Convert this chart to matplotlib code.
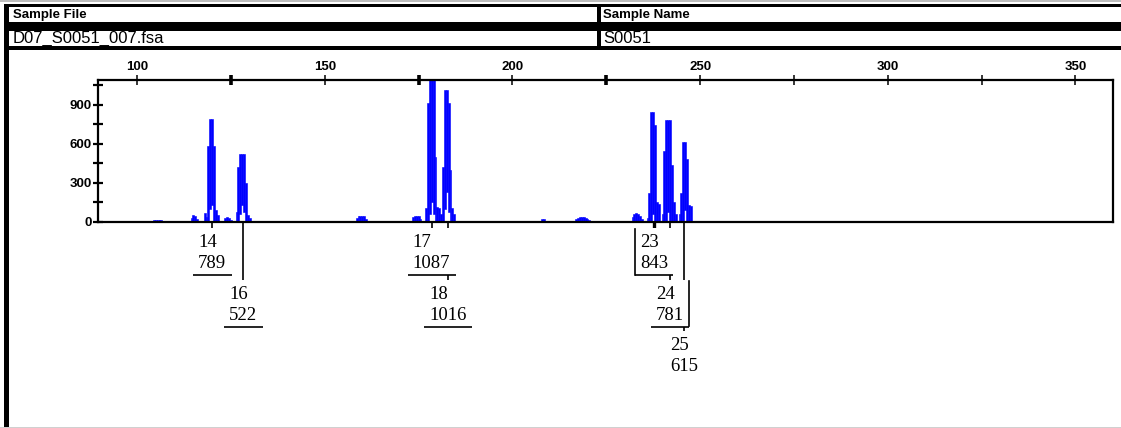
import matplotlib
matplotlib.use("Agg")
import matplotlib.pyplot as plt
import numpy as np
from matplotlib.patches import Rectangle
from matplotlib.ticker import FixedLocator

plt.rcParams['font.family'] = ['Liberation Sans', 'DejaVu Sans']

W, H = 1121, 428

sample_file = "D07_S0051_007.fsa"
sample_name = "S0051"

# blue dye trace, one column per 0.5 bp: size (bp) and signal max (rfu)
col_bp = [104.5, 105.0, 105.5, 106.0, 106.5,
          114.5, 115.0, 115.5, 116.0, 116.5,
          118.0, 118.5, 119.0, 119.5, 120.0, 120.5, 121.0, 121.5,
          123.5, 124.0, 124.5, 125.0,
          126.5, 127.0, 127.5, 128.0, 128.5, 129.0, 129.5, 130.0,
          158.5, 159.0, 159.5, 160.0, 160.5, 161.0,
          173.5, 174.0, 174.5, 175.0, 175.5,
          177.0, 177.5, 178.0, 178.5, 179.0, 179.5, 180.0, 180.5,
          181.0, 181.5, 182.0, 182.5, 183.0, 183.5, 184.0, 184.5,
          208.0, 208.5,
          217.0, 217.5, 218.0, 218.5, 219.0, 219.5, 220.0, 220.5,
          232.0, 232.5, 233.0, 233.5, 234.0, 234.5,
          236.0, 236.5, 237.0, 237.5, 238.0, 238.5, 239.0,
          240.0, 240.5, 241.0, 241.5, 242.0, 242.5, 243.0, 243.5,
          244.5, 245.0, 245.5, 246.0, 246.5, 247.0, 247.5]
col_hi = [15, 18, 18, 18, 15,
          30, 54, 45, 25, 10,
          70, 40, 580, 789, 789, 580, 92, 50,
          30, 36, 30, 15,
          80, 425, 522, 522, 522, 302, 55, 30,
          30, 45, 48, 48, 45, 25,
          40, 48, 48, 48, 25,
          105, 913, 1087, 1087, 1087, 502, 118, 110,
          60, 425, 1016, 1016, 913, 400, 105, 60,
          20, 20,
          25, 33, 36, 36, 36, 33, 25, 12,
          35, 60, 69, 62, 45, 20,
          30, 220, 843, 843, 746, 156, 140,
          60, 548, 781, 781, 781, 438, 156, 60,
          60, 225, 615, 615, 485, 130, 120]
# columns whose signal never returns to baseline (signal min, rfu)
notch_bp = [119.5, 120.0, 127.5, 128.0, 128.5, 178.0, 178.5, 179.0,
            182.0, 182.5, 183.0, 237.5, 241.5, 246.0]
notch_lo = [100, 130, 60, 130, 80, 60, 156, 60,
            100, 230, 80, 60, 80, 95]

# called alleles
allele_names = ["14", "16", "17", "18", "23", "24", "25"]
allele_bp = [120.04, 128.31, 178.48, 182.74, 237.68, 241.95, 245.81]
allele_rfu = [789, 522, 1087, 1016, 843, 781, 615]

# label row for each allele, and the box side that gets an edge line
label_row = [0, 1, 0, 1, 0, 1, 2]
label_edge = [None, None, None, None, "left", "right", None]
row_top = [228, 280, 331]

fig = plt.figure(figsize=(W / 100, H / 100), dpi=100)

# page frame and header, drawn in pixel units
ov = fig.add_axes([0, 0, 1, 1], zorder=0)
ov.set_xlim(0, W)
ov.set_ylim(H, 0)
ov.axis('off')

ov.add_patch(Rectangle((0, 0.4), W, 1.3, color='#bdbdbd', lw=0))
ov.add_patch(Rectangle((4, 4), W - 4, 3.4, color='black', lw=0))
ov.add_patch(Rectangle((4, 21.7), W - 4, 9, color='black', lw=0))
ov.add_patch(Rectangle((4, 45.7), W - 4, 4.3, color='black', lw=0))
ov.add_patch(Rectangle((4, 4), 4.5, H - 4, color='black', lw=0))
ov.add_patch(Rectangle((596.5, 4), 4, 46, color='black', lw=0))
ov.add_patch(Rectangle((0, 426.5), W, 1.5, color='#d0d0d0', lw=0))

ov.text(13, 14.8, "Sample File", fontsize=9.5, fontweight='bold', va='center')
ov.text(603, 14.8, "Sample Name", fontsize=9.5, fontweight='bold', va='center')
ov.text(13, 38.5, sample_file, fontsize=12, va='center')
ov.text(603, 38.5, sample_name, fontsize=12, va='center')

# electropherogram panel, drawn as min-max columns
lo_map = dict(zip(notch_bp, notch_lo))
col_lo = np.array([lo_map.get(b, 0) for b in col_bp], dtype=float)
col_top = np.array(col_hi, dtype=float)

ax = fig.add_axes([98 / W, 1 - 222 / H, 1015 / W, 142 / H], zorder=1)
ax.bar(col_bp, col_top - col_lo, bottom=col_lo, width=0.5, color='#0000ff',
       edgecolor='#0000ff', lw=0.4)
ax.set_xlim(89.6, 360)
ax.set_ylim(0, 1090)

for s in ax.spines.values():
    s.set_linewidth(1.6)
    s.set_zorder(3)

ax.xaxis.tick_top()
ax.xaxis.set_major_locator(FixedLocator([100, 150, 200, 250, 300, 350]))
ax.xaxis.set_minor_locator(FixedLocator([125, 175, 225, 275, 325]))
ax.yaxis.set_major_locator(FixedLocator([0, 300, 600, 900]))
ax.yaxis.set_minor_locator(FixedLocator([150, 450, 750, 1050]))
ax.tick_params(axis='x', which='both', direction='inout', length=6.5, width=1.1,
               top=True, bottom=False, labeltop=True, labelbottom=False, pad=1.5)
ax.tick_params(axis='y', which='both', direction='inout', length=6.5, width=1.6,
               left=True, right=False, pad=1.0)
for t in ax.xaxis.get_minor_ticks()[:3]:
    t.tick2line.set_markeredgewidth(2.6)
for lab in ax.get_xticklabels() + ax.get_yticklabels():
    lab.set_fontsize(9.5)
    lab.set_fontweight('bold')

# allele call labels below the panel
fig.canvas.draw()
to_px = ax.transData
axis_bottom = 222
for name, bp, val, row, edge in zip(allele_names, allele_bp, allele_rfu, label_row, label_edge):
    cx = to_px.transform((bp, 0))[0]
    top = row_top[row]
    lw = 2.4 if edge == "left" else 1.2
    ov.plot([cx, cx], [axis_bottom, top], color='black', lw=lw, zorder=1,
            solid_capstyle='butt')
    txt = "%s\n%d" % (name, val)
    ov.text(cx, top + 25, txt, fontsize=13.5, family=['Liberation Serif', 'DejaVu Serif'],
            ha='center', va='center', multialignment='left', linespacing=1.25, zorder=3)
    if row == 2:
        continue
    bw = 9.5 * len(str(val)) + 10
    x0 = cx - bw / 2
    bottom = top + 47
    ov.add_patch(Rectangle((x0, top), bw, bottom - top, facecolor='white', lw=0, zorder=2))
    ov.plot([x0, x0 + bw], [bottom, bottom], color='black', lw=1.2, zorder=2.5,
            solid_capstyle='butt')
    if edge == "left":
        ov.plot([x0, x0], [top + 1, bottom], color='black', lw=1.2, zorder=2.5)
    elif edge == "right":
        ov.plot([x0 + bw, x0 + bw], [top + 1, bottom - 1.5], color='black', lw=1.2, zorder=2.5)

fig.savefig("out.png", dpi=100)
